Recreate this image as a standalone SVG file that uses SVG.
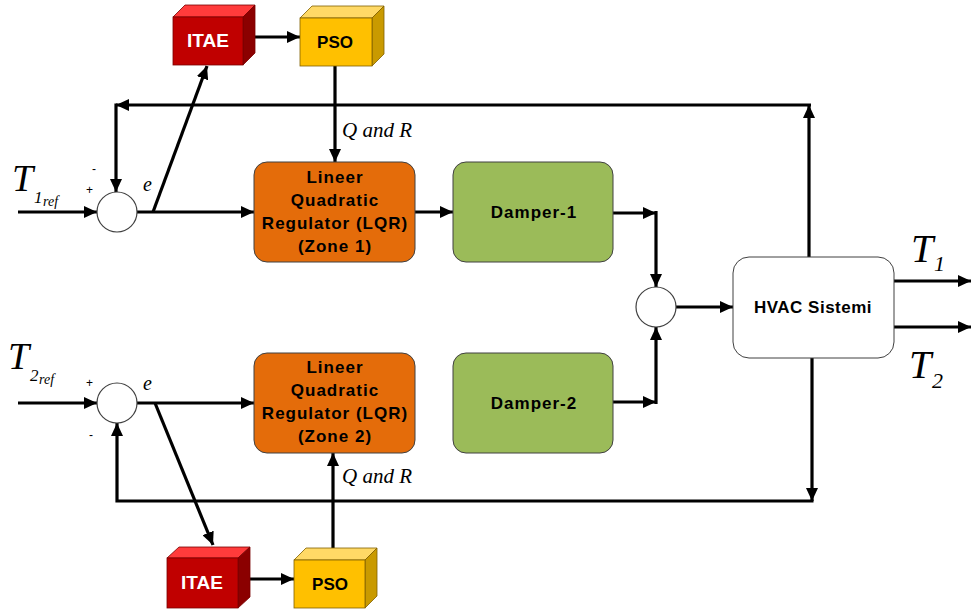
<svg xmlns="http://www.w3.org/2000/svg" width="972" height="615" viewBox="0 0 972 615">
<defs>
<marker id="arr" markerUnits="userSpaceOnUse" markerWidth="14" markerHeight="12" refX="13" refY="6" orient="auto">
<path d="M0,0 L13,6 L0,12 z" fill="#000"/>
</marker>
<style>
.c{fill:none;stroke:#000;stroke-width:3.2}
.a{marker-end:url(#arr)}
.lbl{font-family:"Liberation Sans",Arial,sans-serif;font-weight:bold;font-size:17px;letter-spacing:1px;fill:#000;text-anchor:middle}
.math{font-family:"Liberation Serif","Times New Roman",serif;font-style:italic;fill:#000}
.sign{font-family:"Liberation Sans",Arial,sans-serif;font-size:12px;fill:#000}
.lqr{fill:#E46C0A;stroke:#404040;stroke-width:1}
.dmp{fill:#9BBB59;stroke:#404040;stroke-width:1}
.sum{fill:#fff;stroke:#404040;stroke-width:1.2}
</style>
</defs>
<rect width="972" height="615" fill="#fff"/>

<g id="connectors">
<path class="c a" d="M18,212 H97"/>
<path class="c a" d="M137,212 H254"/>
<path class="c a" d="M153,212 L207,66"/>
<path class="c a" d="M255,37 H300"/>
<path class="c a" d="M335,66 V162"/>
<path class="c a" d="M415,212 H453"/>
<path class="c a" d="M613,213 H656"/>
<path class="c a" d="M656,211 V287"/>
<path class="c a" d="M613,402 H656"/>
<path class="c a" d="M656,404 V327"/>
<path class="c a" d="M676,307 H733"/>
<path class="c a" d="M894,281 H971"/>
<path class="c a" d="M894,327 H971"/>
<path class="c a" d="M809,257 V105"/>
<path class="c a" d="M811,105 H116"/>
<path class="c a" d="M116,103.5 V192"/>
<path class="c a" d="M812,358 V501"/>
<path class="c a" d="M813.5,501 H117 V423"/>
<path class="c a" d="M18,403 H97"/>
<path class="c a" d="M137,403 H254"/>
<path class="c a" d="M155,403 L213,545"/>
<path class="c a" d="M250,579 H294"/>
<path class="c a" d="M333,548 V453"/>
</g>

<g id="sum1">
<circle class="sum" cx="117" cy="212" r="20"/>
<text class="sign" x="92" y="173">-</text>
<text class="sign" x="86" y="194">+</text>
</g>
<g id="sum2">
<circle class="sum" cx="117" cy="403" r="20"/>
<text class="sign" x="86" y="387">+</text>
<text class="sign" x="89" y="439">-</text>
</g>
<g id="sum3">
<circle class="sum" cx="656" cy="307" r="20"/>
</g>

<g id="labels">
<text class="math" x="12" y="191" font-size="38">T</text>
<text class="math" x="34" y="203" font-size="17" font-style="normal">1</text>
<text class="math" x="43" y="206" font-size="14">ref</text>
<text class="math" x="8" y="369" font-size="38">T</text>
<text class="math" x="30" y="381" font-size="17" font-style="normal">2</text>
<text class="math" x="39" y="384" font-size="14">ref</text>
<text class="math" x="143" y="191" font-size="20">e</text>
<text class="math" x="143" y="390" font-size="20">e</text>
<text class="math" x="342" y="137" font-size="21">Q and R</text>
<text class="math" x="342" y="483" font-size="21">Q and R</text>
<text class="math" x="911" y="262" font-size="40">T</text>
<text class="math" x="934" y="271" font-size="22" font-style="normal">1</text>
<text class="math" x="909" y="378" font-size="40">T</text>
<text class="math" x="932" y="388" font-size="22" font-style="normal">2</text>
</g>

<g id="itae1">
<polygon points="173,17 185,5 255,5 243,17" fill="#FF3B3B" stroke="#7a0000" stroke-width="0.8"/>
<polygon points="243,17 255,5 255,53 243,65" fill="#8B0000" stroke="#7a0000" stroke-width="0.8"/>
<rect x="173" y="17" width="70" height="48" fill="#C00000" stroke="#7a0000" stroke-width="0.8"/>
<text x="208" y="47" font-family="'Liberation Sans',Arial,sans-serif" font-weight="bold" font-size="19" fill="#fff" text-anchor="middle">ITAE</text>
</g>
<g id="pso1">
<polygon points="300,18 312,6 384,6 372,18" fill="#FFD966" stroke="#806000" stroke-width="0.8"/>
<polygon points="372,18 384,6 384,54 372,66" fill="#C99A00" stroke="#806000" stroke-width="0.8"/>
<rect x="300" y="18" width="72" height="48" fill="#FFC000" stroke="#806000" stroke-width="0.8"/>
<text x="335" y="48" font-family="'Liberation Sans',Arial,sans-serif" font-weight="bold" font-size="17" fill="#000" text-anchor="middle">PSO</text>
</g>
<g id="itae2">
<polygon points="167,558 179,547 250,547 238,558" fill="#FF3B3B" stroke="#7a0000" stroke-width="0.8"/>
<polygon points="238,558 250,547 250,597 238,608" fill="#8B0000" stroke="#7a0000" stroke-width="0.8"/>
<rect x="167" y="558" width="71" height="50" fill="#C00000" stroke="#7a0000" stroke-width="0.8"/>
<text x="202" y="589" font-family="'Liberation Sans',Arial,sans-serif" font-weight="bold" font-size="19" fill="#fff" text-anchor="middle">ITAE</text>
</g>
<g id="pso2">
<polygon points="294,560 306,548 377,548 365,560" fill="#FFD966" stroke="#806000" stroke-width="0.8"/>
<polygon points="365,560 377,548 377,596 365,608" fill="#C99A00" stroke="#806000" stroke-width="0.8"/>
<rect x="294" y="560" width="71" height="48" fill="#FFC000" stroke="#806000" stroke-width="0.8"/>
<text x="330" y="590" font-family="'Liberation Sans',Arial,sans-serif" font-weight="bold" font-size="17" fill="#000" text-anchor="middle">PSO</text>
</g>

<g id="lqr1">
<rect class="lqr" x="254" y="162" width="161" height="100" rx="13"/>
<text class="lbl" x="335" y="183">Lineer</text>
<text class="lbl" x="335" y="206">Quadratic</text>
<text class="lbl" x="335" y="229">Regulator (LQR)</text>
<text class="lbl" x="335" y="252">(Zone 1)</text>
</g>
<g id="lqr2">
<rect class="lqr" x="254" y="353" width="161" height="100" rx="13"/>
<text class="lbl" x="335" y="373">Lineer</text>
<text class="lbl" x="335" y="396">Quadratic</text>
<text class="lbl" x="335" y="419">Regulator (LQR)</text>
<text class="lbl" x="335" y="442">(Zone 2)</text>
</g>
<g id="damper1">
<rect class="dmp" x="453" y="162" width="160" height="100" rx="13"/>
<text class="lbl" x="534" y="218">Damper-1</text>
</g>
<g id="damper2">
<rect class="dmp" x="453" y="353" width="160" height="100" rx="13"/>
<text class="lbl" x="534" y="409">Damper-2</text>
</g>
<g id="hvac">
<rect x="733" y="257" width="161" height="101" rx="16" fill="#fff" stroke="#404040" stroke-width="1"/>
<text class="lbl" x="813" y="313" style="letter-spacing:0.5px">HVAC Sistemi</text>
</g>
</svg>
